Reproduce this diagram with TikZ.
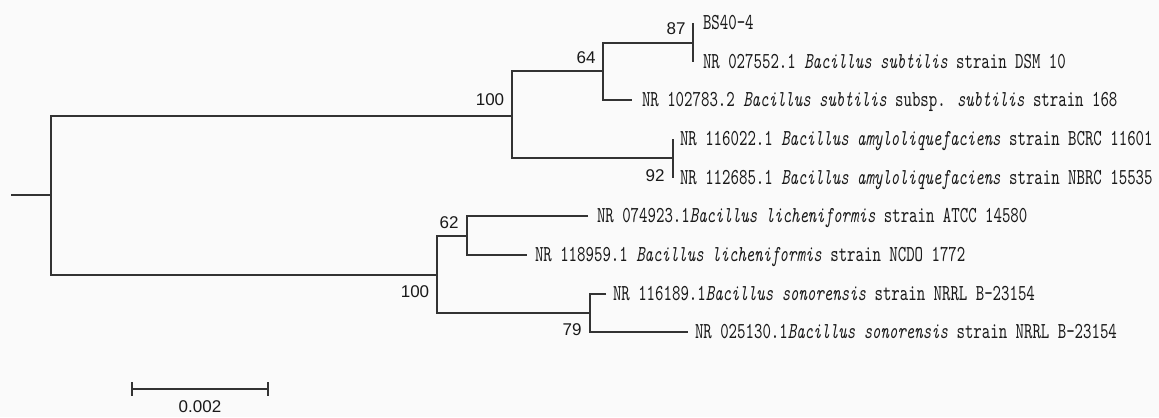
\documentclass[tikz,border=0pt]{standalone}
\usepackage{fontspec}
\setmainfont{Liberation Serif}
\newfontfamily\tipfont{lmmono10}[Extension=.otf, UprightFont=*-regular, ItalicFont=*-italic, FakeStretch=0.705]
\newfontfamily\bsfont{Liberation Sans}
\definecolor{treecol}{RGB}{51,51,51}
\definecolor{inkcol}{RGB}{25,25,25}
\definecolor{papercol}{RGB}{250,250,250}
\begin{document}
\begin{tikzpicture}[x=1bp,y=-1bp,
  branchline/.style={draw=treecol, line width=1.7bp},
  leaf/.style={anchor=west, inner xsep=0pt, inner ysep=0pt, text height=13.8bp, text depth=0pt,
    font=\tipfont\fontsize{22.8bp}{22.8bp}\selectfont, text=inkcol, outer xsep=#1, outer ysep=0pt},
  leaf/.default=8bp,
  boot/.style={font=\bsfont\fontsize{17bp}{17bp}\selectfont, text=inkcol, inner sep=0pt},
]
\fill[papercol] (0,0) rectangle (1159,417);
\useasboundingbox (0,0) rectangle (1159,417);

% internal nodes
\coordinate (start) at (11,195);
\coordinate (root) at (51,195);
\coordinate (A) at (512,116);
\coordinate (B) at (603,71);
\coordinate (C) at (693,43);
\coordinate (D) at (673,158);
\coordinate (E) at (437,275);
\coordinate (F) at (467,236);
\coordinate (G) at (590,313);

% leaves
\node[leaf=10bp] (bs) at (693,23) {BS40-4};
\node[leaf=10bp] (dsm) at (693,62) {NR 027552.1 \textit{Bacillus subtilis} strain DSM 10};
\node[leaf=10bp] (s168) at (632,100) {NR 102783.2 \textit{Bacillus subtilis} subsp. \textit{subtilis} strain 168};
\node[leaf=7bp] (bcrc) at (673,139) {NR 116022.1 \textit{Bacillus amyloliquefaciens} strain BCRC 11601};
\node[leaf=7bp] (nbrc) at (673,178) {NR 112685.1 \textit{Bacillus amyloliquefaciens} strain NBRC 15535};
\node[leaf=9bp] (atcc) at (588,216) {NR 074923.1\textit{Bacillus licheniformis} strain ATCC 14580};
\node[leaf=8bp] (ncdo) at (527,255) {NR 118959.1 \textit{Bacillus licheniformis} strain NCDO 1772};
\node[leaf=7bp] (son1) at (606,294) {NR 116189.1\textit{Bacillus sonorensis} strain NRRL B-23154};
\node[leaf=7bp] (son2) at (688,332) {NR 025130.1\textit{Bacillus sonorensis} strain NRRL B-23154};

% branches
\draw[branchline] (start) -- (root);
\draw[branchline] (A) -| (root) |- (E);
\draw[branchline] (B) -| (A) |- (D);
\draw[branchline] (C) -| (B) |- (s168.west);
\draw[branchline] (bs.west) -| (C) |- (dsm.west);
\draw[branchline] (bcrc.west) -| (D) |- (nbrc.west);
\draw[branchline] (F) -| (E) |- (G);
\draw[branchline] (atcc.west) -| (F) |- (ncdo.west);
\draw[branchline] (son1.west) -| (G) |- (son2.west);

% bootstrap values
\node[boot] (bA) at (490,100) {100};
\node[boot] (bB) at (586,58) {64};
\node[boot] (bC) at (676,29) {87};
\node[boot] (bD) at (655,176) {92};
\node[boot] (bE) at (415,292) {100};
\node[boot] (bF) at (449,223) {62};
\node[boot] (bG) at (572,330) {79};

% scale bar
\coordinate (sb1) at (132,389);
\coordinate (sb2) at (268,389);
\draw[branchline] (sb1) -- (sb2);
\draw[branchline] (sb1) ++(0,-7) -- ++(0,14);
\draw[branchline] (sb2) ++(0,-7) -- ++(0,14);
\node[boot] (sblabel) at (200,407) {0.002};
\end{tikzpicture}
\end{document}
